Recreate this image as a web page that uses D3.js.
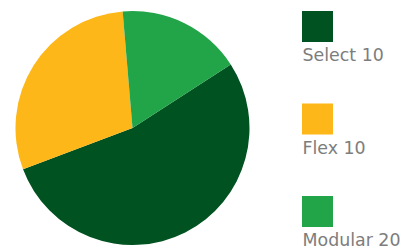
<!DOCTYPE html>
<html>
<head>
<meta charset="utf-8">
<script src="https://cdn.jsdelivr.net/npm/d3@7"></script>
<style>
  html, body { margin: 0; padding: 0; background: #fff; overflow: hidden; }
  svg { display: block; }
</style>
</head>
<body>
<div id="chart"></div>
<script>
const categories = ["Select 10", "Flex 10", "Modular 20"];
const shares = [53.4, 29.4, 17.2];
const colors = ["#005220", "#FDB719", "#22A449"];

const width = 401, height = 246;
const cx = 132.5, cy = 128, radius = 117;
const start = 57.1 * Math.PI / 180; // first slice begins right of top

const svg = d3.select("#chart")
  .append("svg")
  .attr("width", width)
  .attr("height", height)
  .attr("viewBox", [0, 0, width, height]);

const data = categories.map((c, i) => ({name: c, value: shares[i]}));

const pie = d3.pie()
  .sort(null)
  .value(d => d.value)
  .startAngle(start)
  .endAngle(start + 2 * Math.PI);

const arc = d3.arc().innerRadius(0).outerRadius(radius);

const color = d3.scaleOrdinal().domain(categories).range(colors);

svg.append("g")
  .attr("transform", `translate(${cx},${cy})`)
  .selectAll("path")
  .data(pie(data))
  .join("path")
  .attr("d", arc)
  .attr("fill", d => color(d.data.name));

// legend: swatch with label underneath
const y = d3.scalePoint()
  .domain(categories)
  .range([11, 196]);

const item = svg.selectAll(".legend")
  .data(categories)
  .join("g")
  .attr("class", "legend")
  .attr("transform", d => `translate(302,${y(d)})`);

item.append("rect")
  .attr("width", 31)
  .attr("height", 31)
  .attr("fill", d => color(d));

item.append("text")
  .attr("x", 0.5)
  .attr("y", 50)
  .attr("font-family", "'DejaVu Sans', Verdana, sans-serif")
  .attr("font-size", 17.4)
  .attr("fill", "#7d7d7d")
  .text(d => d);
</script>
</body>
</html>
